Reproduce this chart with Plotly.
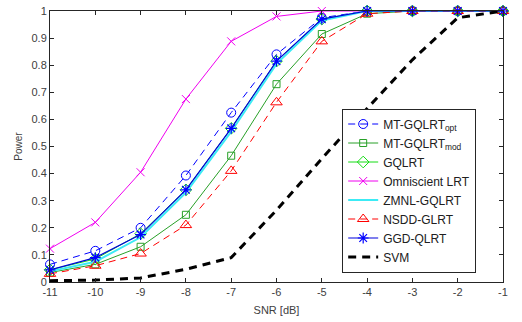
import plotly.graph_objects as go

# SNR grid (dB)
snr = [-11, -10, -9, -8, -7, -6, -5, -4, -3, -2, -1]

# Detection power for each detector
mt_gqlrt_opt = [0.065, 0.115, 0.200, 0.393, 0.625, 0.840, 0.975, 1.0, 1.0, 1.0, 1.0]
mt_gqlrt_mod = [0.035, 0.065, 0.130, 0.248, 0.466, 0.730, 0.915, 0.990, 1.0, 1.0, 1.0]
gqlrt = [0.045, 0.085, 0.178, 0.340, 0.567, 0.815, 0.970, 1.0, 1.0, 1.0, 1.0]
omniscient_lrt = [0.123, 0.220, 0.405, 0.675, 0.888, 0.980, 1.0, 1.0, 1.0, 1.0, 1.0]
zmnl_gqlrt = [0.040, 0.075, 0.165, 0.330, 0.555, 0.805, 0.965, 1.0, 1.0, 1.0, 1.0]
nsdd_glrt = [0.030, 0.060, 0.105, 0.210, 0.410, 0.663, 0.888, 0.990, 1.0, 1.0, 1.0]
ggd_qlrt = [0.045, 0.090, 0.175, 0.340, 0.567, 0.815, 0.970, 1.0, 1.0, 1.0, 1.0]
svm = [0.005, 0.007, 0.015, 0.047, 0.090, 0.265, 0.455, 0.640, 0.820, 0.975, 1.0]

x_ticks = [-11, -10, -9, -8, -7, -6, -5, -4, -3, -2, -1]
y_ticks = [0, 0.1, 0.2, 0.3, 0.4, 0.5, 0.6, 0.7, 0.8, 0.9, 1]

series = [
    dict(name="MT-GQLRT<sub>opt</sub>", y=mt_gqlrt_opt, mode="lines+markers",
         line=dict(color="rgb(0,0,255)", width=1, dash="7px,5px"),
         marker=dict(symbol="circle-open", size=9, color="rgb(0,0,255)", line=dict(width=1))),
    dict(name="MT-GQLRT<sub>mod</sub>", y=mt_gqlrt_mod, mode="lines+markers",
         line=dict(color="rgb(40,160,40)", width=1),
         marker=dict(symbol="square-open", size=7, color="rgb(40,160,40)", line=dict(width=1))),
    dict(name="GQLRT", y=gqlrt, mode="lines+markers",
         line=dict(color="rgb(20,220,20)", width=1),
         marker=dict(symbol="diamond-open", size=9, color="rgb(20,220,20)", line=dict(width=1))),
    dict(name="Omniscient LRT", y=omniscient_lrt, mode="lines+markers",
         line=dict(color="rgb(240,0,240)", width=1),
         marker=dict(symbol="x-thin-open", size=8, color="rgb(240,0,240)", line=dict(width=1, color="rgb(240,0,240)"))),
    dict(name="ZMNL-GQLRT", y=zmnl_gqlrt, mode="lines",
         line=dict(color="rgb(60,235,245)", width=2)),
    dict(name="NSDD-GLRT", y=nsdd_glrt, mode="lines+markers",
         line=dict(color="rgb(255,0,0)", width=1, dash="7px,5px"),
         marker=dict(symbol="triangle-up-open", size=10, color="rgb(255,0,0)", line=dict(width=1))),
    dict(name="GGD-QLRT", y=ggd_qlrt, mode="lines+markers",
         line=dict(color="rgb(0,0,220)", width=1.2),
         marker=dict(symbol="asterisk-open", size=9, color="rgb(0,0,255)", line=dict(width=1.2, color="rgb(0,0,255)"))),
    dict(name="SVM", y=svm, mode="lines",
         line=dict(color="black", width=3, dash="8px,6px")),
]

fig = go.Figure()
for s in series:
    fig.add_trace(go.Scatter(x=snr, cliponaxis=False, **s))

axis_color = "#262626"
tick_font = dict(family="Liberation Sans, Arial, sans-serif", size=11, color="#404040")

fig.update_layout(
    width=522, height=322,
    margin=dict(l=50, r=19, t=5, b=40),
    paper_bgcolor="white", plot_bgcolor="white",
    font=dict(family="Liberation Sans, Arial, sans-serif", size=11, color="#404040"),
    xaxis=dict(
        range=[-11, -1], tickvals=x_ticks, ticktext=[str(v) for v in x_ticks],
        ticks="inside", ticklen=4, tickcolor=axis_color, showline=True, linecolor=axis_color,
        linewidth=1, mirror="ticks", showgrid=False, zeroline=False, tickfont=tick_font,
        ticklabeloverflow="allow",
        title=dict(text="SNR [dB]", font=dict(size=11, color="#404040"), standoff=9),
    ),
    yaxis=dict(
        range=[0, 1], tickvals=y_ticks, ticktext=[f"{v:g}" for v in y_ticks],
        ticks="inside", ticklen=4, tickcolor=axis_color, showline=True, linecolor=axis_color,
        linewidth=1, mirror="ticks", showgrid=False, zeroline=False, tickfont=tick_font,
        ticklabeloverflow="allow",
        title=dict(text="Power", font=dict(size=10, color="#404040"), standoff=7),
    ),
    legend=dict(
        x=0.645, y=0.035, xanchor="left", yanchor="bottom",
        bgcolor="white", bordercolor=axis_color, borderwidth=1,
        font=dict(size=12, color="#202020"), tracegroupgap=0,
    ),
    showlegend=True,
)

fig.write_html("out.html")
